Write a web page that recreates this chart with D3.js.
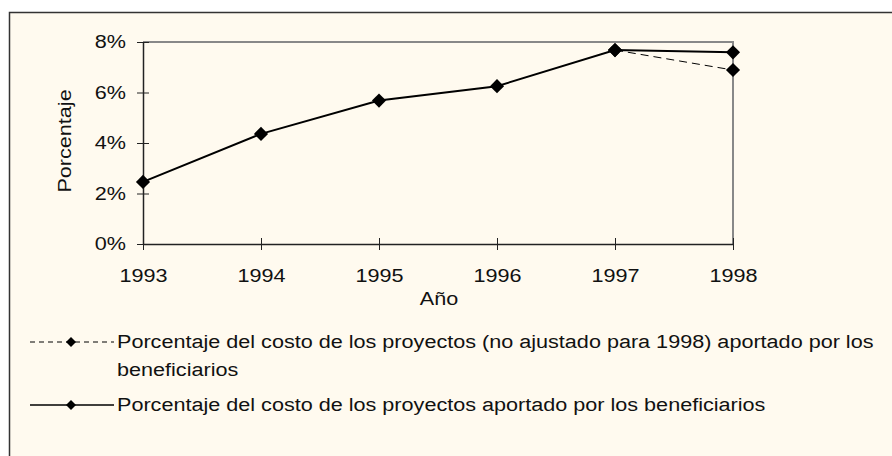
<!DOCTYPE html>
<html><head><meta charset="utf-8">
<script src="https://cdn.jsdelivr.net/npm/d3@7"></script>
<style>
html,body{margin:0;padding:0;background:#fff;}
svg{display:block;font-family:"Liberation Sans",Arial,sans-serif;}
</style></head>
<body><svg id="c" width="892" height="456"></svg>
<script>
const years = [1993, 1994, 1995, 1996, 1997, 1998];
const adjusted = [2.46, 4.36, 5.68, 6.25, 7.68, 7.59];
const unadjustedYears = [1997, 1998];
const unadjusted = [7.68, 6.89];
const yTicks = [0, 2, 4, 6, 8];
const legendLabels = [
  ["Porcentaje del costo de los proyectos (no ajustado para 1998) aportado por los", "beneficiarios"],
  ["Porcentaje del costo de los proyectos aportado por los beneficiarios"]
];

const FS = 18, WIDEN = 1.2;
const svg = d3.select("#c");
svg.append("rect").attr("x", 9.5).attr("y", 12.5).attr("width", 900).attr("height", 460)
  .attr("fill", "#fffaef").attr("stroke", "#333").attr("stroke-width", 1.5);

const x = d3.scalePoint().domain(years).range([143, 733]);
const y = d3.scaleLinear().domain([0, 8]).range([244, 42]);

svg.append("path").attr("d", `M${x(1993)},${y(8)}H${x(1998)}V${y(0)}`)
  .attr("fill", "none").attr("stroke", "#888").attr("stroke-width", 2);

const ya = svg.append("g").attr("transform", `translate(${x(1993)},0)`)
  .call(d3.axisLeft(y).tickValues(yTicks).tickFormat(d => d + "%").tickSize(6).tickSizeOuter(0));
ya.select(".domain").attr("stroke", "#222").attr("stroke-width", 1.5);
ya.selectAll(".tick line").attr("x2", 6).attr("x1", -6).attr("stroke", "#222");
ya.selectAll(".tick text").attr("x", -17).attr("font-size", FS).attr("fill", "#111").attr("font-family", "Liberation Sans, Arial");

const xa = svg.append("g").attr("transform", `translate(0,${y(0)})`)
  .call(d3.axisBottom(x).tickFormat(d3.format("d")).tickSize(6).tickSizeOuter(0));
xa.select(".domain").attr("stroke", "#222").attr("stroke-width", 1.5);
xa.selectAll(".tick line").attr("y1", -6).attr("y2", 6).attr("stroke", "#222");
xa.selectAll(".tick text").attr("y", 25).attr("font-size", FS).attr("fill", "#111").attr("font-family", "Liberation Sans, Arial");

svg.append("text").attr("x", 439).attr("y", 305).attr("text-anchor", "middle")
  .attr("font-size", FS).attr("fill", "#111").text("Año");
svg.append("text").attr("transform", "translate(71,141) rotate(-90)").attr("text-anchor", "middle")
  .attr("font-size", FS).attr("fill", "#111").text("Porcentaje");

const line = d3.line().x(d => x(d[0])).y(d => y(d[1]));
const dia = (g, cx, cy, s) => g.append("path")
  .attr("d", d3.symbol().type(d3.symbolSquare).size(s)())
  .attr("transform", `translate(${cx},${cy}) rotate(45)`).attr("fill", "#000");

const adjData = years.map((yr, i) => [yr, adjusted[i]]);
const unData = unadjustedYears.map((yr, i) => [yr, unadjusted[i]]);

svg.append("path").attr("d", line(unData)).attr("fill", "none").attr("stroke", "#000")
  .attr("stroke-width", 1).attr("stroke-dasharray", "8,5");
svg.append("path").attr("d", line(adjData)).attr("fill", "none").attr("stroke", "#000").attr("stroke-width", 2);

unData.forEach(d => dia(svg, x(d[0]), y(d[1]), 100));
adjData.forEach(d => dia(svg, x(d[0]), y(d[1]), 100));

const lg = svg.append("g");
const l1y = 342, l2y = 405;
lg.append("line").attr("x1", 30).attr("x2", 114).attr("y1", l1y).attr("y2", l1y)
  .attr("stroke", "#000").attr("stroke-width", 1).attr("stroke-dasharray", "5,4");
dia(lg, 71, l1y, 50);
lg.append("line").attr("x1", 30).attr("x2", 114).attr("y1", l2y).attr("y2", l2y)
  .attr("stroke", "#000").attr("stroke-width", 1.5);
dia(lg, 71, l2y, 50);
const t1 = lg.append("text").attr("x", 117).attr("y", l1y + 6).attr("font-size", FS).attr("fill", "#111");
t1.append("tspan").attr("x", 117).text(legendLabels[0][0]);
t1.append("tspan").attr("x", 117).attr("dy", 28).text(legendLabels[0][1]);
lg.append("text").attr("x", 117).attr("y", l2y + 6).attr("font-size", FS).attr("fill", "#111").text(legendLabels[1][0]);

svg.selectAll("text").each(function() {
  const tsp = d3.select(this).selectAll("tspan");
  const nodes = tsp.empty() ? [this] : tsp.nodes();
  nodes.forEach(n => {
    const w = n.getComputedTextLength();
    d3.select(n).attr("textLength", w * WIDEN).attr("lengthAdjust", "spacingAndGlyphs");
  });
});
</script></body></html>
